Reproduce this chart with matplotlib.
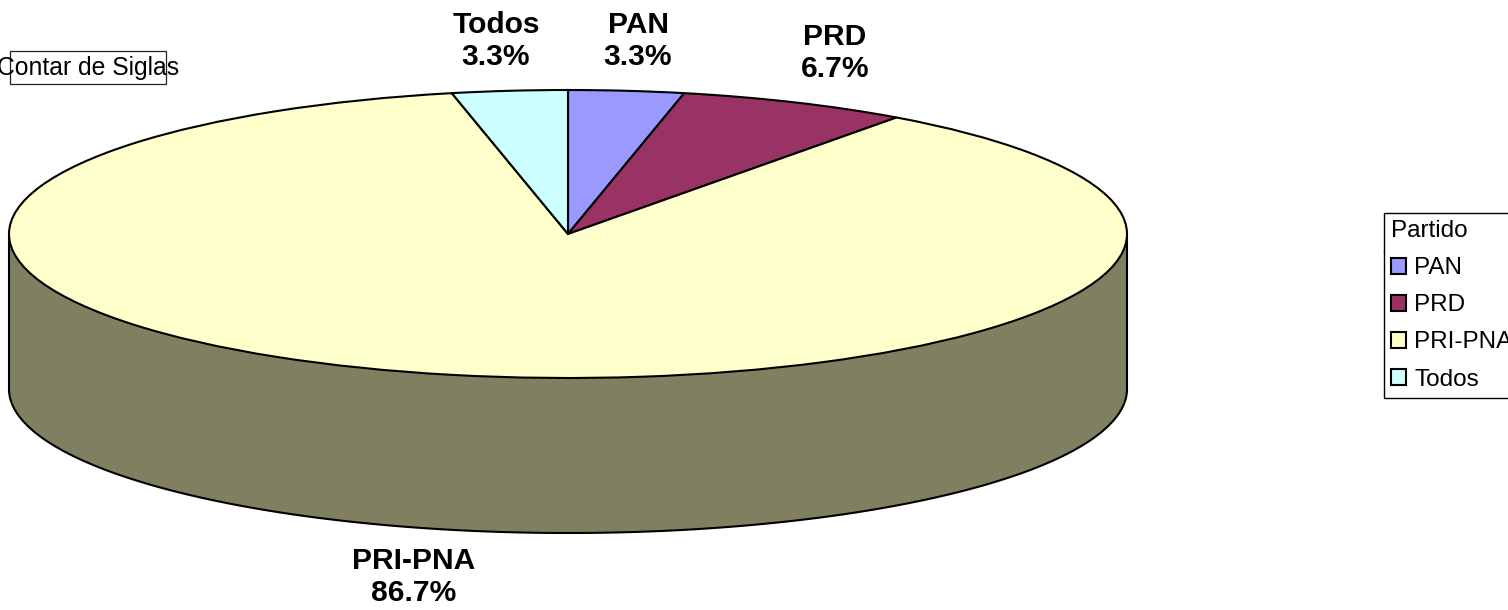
import numpy as np
import matplotlib
matplotlib.use("Agg")
import matplotlib.pyplot as plt
from matplotlib.patches import Patch, Rectangle
from matplotlib.lines import Line2D

W, H = 1508, 610
parties = ["PAN", "PRD", "PRI-PNA", "Todos"]
counts = [1, 2, 26, 1]
colors = ["#9999FF", "#993366", "#FFFFCC", "#CCFFFF"]
side_color = "#808060"
field_label = "Contar de Siglas"
legend_title = "Partido"
FONT = ["Liberation Sans Narrow", "Liberation Sans"]
label_pos = {"PAN": (638, 41), "PRD": (835, 53), "PRI-PNA": (414, 577), "Todos": (496, 41)}

def fx(x): return x / W
def fy(y): return 1 - y / H

fig = plt.figure(figsize=(W / 100, H / 100), dpi=100, facecolor="white")
ax = fig.add_axes([fx(9), fy(378), 1118 / W, 288 / H])

# side wall drawn behind the top face
depth = 155 / 144
t = np.linspace(np.pi, 2 * np.pi, 400)
ax.fill(np.r_[-1, np.cos(t), 1], np.r_[0, np.sin(t) - depth, 0], facecolor=side_color,
        edgecolor="black", linewidth=1.5, clip_on=False, zorder=1)

wedges, _ = ax.pie(counts, colors=colors, startangle=90, counterclock=False, radius=1,
                   wedgeprops=dict(edgecolor="black", linewidth=1.5, clip_on=False, zorder=2))
ax.set_aspect("auto")
ax.set_xlim(-1, 1)
ax.set_ylim(-1, 1)
ax.axis("off")

total = sum(counts)
for name, v in zip(parties, counts):
    x, y = label_pos[name]
    fig.text(fx(x), fy(y), f"{name}\n{100 * v / total:.1f}%", ha="center", va="center",
             family=FONT, weight="bold", fontsize=21.6, linespacing=1.17, color="black")

fig.add_artist(Rectangle((fx(10), fy(84)), 156 / W, 33 / H, transform=fig.transFigure,
                         facecolor="white", edgecolor="#222222", linewidth=0.9))
fig.text(fx(88), fy(68), field_label, ha="center", va="center", family=FONT, fontsize=17.8)

handles = [Patch(facecolor=c, edgecolor="black", linewidth=1.5) for c in colors]
leg = fig.legend(handles, parties, title=legend_title, loc="upper left",
                 bbox_to_anchor=(fx(1384), fy(213)), borderaxespad=0, frameon=True,
                 fancybox=False, edgecolor="black", framealpha=1,
                 prop=dict(family=FONT, size=17.5), title_fontproperties=dict(family=FONT, size=17.5),
                 alignment="left", handlelength=0.62, handleheight=0.62, handletextpad=0.33,
                 labelspacing=0.62, borderpad=0.3)
leg.get_frame().set_linewidth(1.0)
fig.add_artist(Line2D([fx(1384), fx(1506)], [fy(252), fy(252)], color="black", linewidth=1.0,
                      transform=fig.transFigure))

fig.savefig("out.png", dpi=100, facecolor="white")
